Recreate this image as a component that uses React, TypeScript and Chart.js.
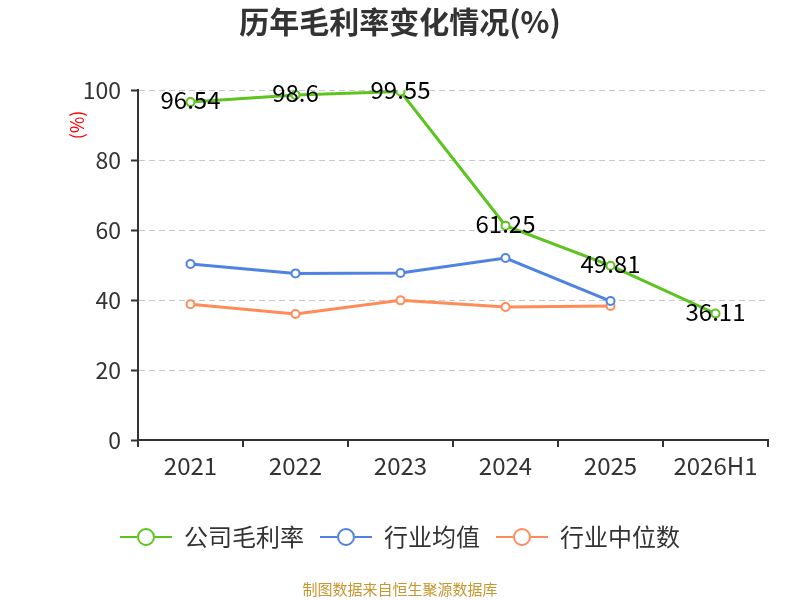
import { useEffect, useRef } from "react"
import { Chart, registerables } from "chart.js"

Chart.register(...registerables)

const FONT = "'Noto Sans CJK SC', 'Noto Sans', sans-serif"

const categories = ["2021", "2022", "2023", "2024", "2025", "2026H1"]
const companyMargin = [96.54, 98.6, 99.55, 61.25, 49.81, 36.11]
const industryAvg = [50.3, 47.6, 47.7, 52.0, 39.7, null]
const industryMedian = [38.8, 36.0, 39.9, 38.0, 38.3, null]
const seriesNames = ["公司毛利率", "行业均值", "行业中位数"]
const seriesColors = ["#5cc41e", "#4f82e3", "#ff8b59"]

const titleText = "历年毛利率变化情况(%)"
const unitText = "(%)"
const footerText = "制图数据来自恒生聚源数据库"

// legend icon: short line with a hollow circle in the middle
function makeIcon(color: string) {
  const c = document.createElement("canvas")
  c.width = 52
  c.height = 20
  const ctx = c.getContext("2d")!
  ctx.strokeStyle = color
  ctx.lineWidth = 2
  ctx.beginPath()
  ctx.moveTo(0, 10)
  ctx.lineTo(17, 10)
  ctx.moveTo(35, 10)
  ctx.lineTo(52, 10)
  ctx.stroke()
  ctx.beginPath()
  ctx.arc(26, 10, 8, 0, Math.PI * 2)
  ctx.fillStyle = "#fff"
  ctx.fill()
  ctx.stroke()
  return c
}

const decorPlugin = {
  id: "decor",
  afterDraw(chart: any) {
    const ctx = chart.ctx
    ctx.save()
    ctx.textAlign = "center"
    ctx.textBaseline = "middle"
    ctx.fillStyle = "#333"
    ctx.font = `bold 30px ${FONT}`
    ctx.fillText(titleText, 400, 22)
    ctx.fillStyle = "#c8962e"
    ctx.font = `15px ${FONT}`
    ctx.fillText(footerText, 400, 589)
    ctx.translate(77, 125)
    ctx.rotate(-Math.PI / 2)
    ctx.fillStyle = "#ff0000"
    ctx.font = `18px ${FONT}`
    ctx.fillText(unitText, 0, 0)
    ctx.restore()
  },
  afterDatasetsDraw(chart: any) {
    const ctx = chart.ctx
    const meta = chart.getDatasetMeta(0)
    ctx.save()
    ctx.textAlign = "center"
    ctx.textBaseline = "middle"
    ctx.fillStyle = "#000"
    ctx.font = `24px ${FONT}`
    meta.data.forEach((pt: any, i: number) => {
      ctx.fillText(String(companyMargin[i]), pt.x, pt.y - 2)
    })
    ctx.restore()
  },
}

export default function App() {
  const chartRef = useRef<HTMLCanvasElement>(null)
  const chartInstance = useRef<Chart | null>(null)

  useEffect(() => {
    if (!chartRef.current) return
    if (chartInstance.current) chartInstance.current.destroy()
    const ctx = chartRef.current.getContext("2d")
    if (!ctx) return

    const icons = seriesColors.map(makeIcon)
    const lineStyle = (color: string) => ({
      borderColor: color,
      backgroundColor: color,
      borderWidth: 3,
      pointRadius: 4,
      pointBorderWidth: 2,
      pointBackgroundColor: "#fff",
      pointBorderColor: color,
      tension: 0,
    })

    chartInstance.current = new Chart(ctx, {
      type: "line",
      data: {
        labels: categories,
        datasets: [
          { label: seriesNames[0], data: companyMargin, ...lineStyle(seriesColors[0]) },
          { label: seriesNames[1], data: industryAvg, ...lineStyle(seriesColors[1]) },
          { label: seriesNames[2], data: industryMedian, ...lineStyle(seriesColors[2]) },
        ],
      },
      plugins: [decorPlugin],
      options: {
        animation: false,
        responsive: true,
        maintainAspectRatio: false,
        layout: { padding: { top: 90, right: 32, bottom: 41, left: 32 } },
        plugins: {
          title: { display: false },
          tooltip: { enabled: false },
          legend: {
            position: "bottom",
            labels: {
              usePointStyle: true,
              pointStyleWidth: 52,
              padding: 16,
              color: "#333",
              font: { family: FONT, size: 24 },
              generateLabels: (chart: any) =>
                Chart.defaults.plugins.legend.labels
                  .generateLabels(chart)
                  .map((item: any, i: number) => ({ ...item, pointStyle: icons[i] })),
            },
          },
        },
        scales: {
          x: {
            offset: true,
            grid: { offset: true, drawOnChartArea: false, drawTicks: true, tickLength: 7, color: "#333", lineWidth: 2 },
            border: { color: "#333", width: 2 },
            ticks: { color: "#333", padding: 4, font: { family: FONT, size: 24 } },
            afterFit: (scale: any) => {
              scale.height = 69
            },
          },
          y: {
            min: 0,
            max: 100,
            ticks: { stepSize: 20, color: "#333", padding: 10, font: { family: FONT, size: 23 } },
            grid: { color: "#c8c8c8", lineWidth: 1, tickLength: 7, tickColor: "#333", tickWidth: 2, tickBorderDash: [] },
            border: { color: "#333", width: 2, dash: [6, 4] },
            afterFit: (scale: any) => {
              scale.width = 106
            },
          },
        },
      } as any,
    })

    return () => {
      if (chartInstance.current) {
        chartInstance.current.destroy()
        chartInstance.current = null
      }
    }
  }, [])

  return (
    <div style={{ position: "fixed", left: 0, top: 0, width: 800, height: 600, background: "#fff" }}>
      <canvas ref={chartRef}></canvas>
    </div>
  )
}
